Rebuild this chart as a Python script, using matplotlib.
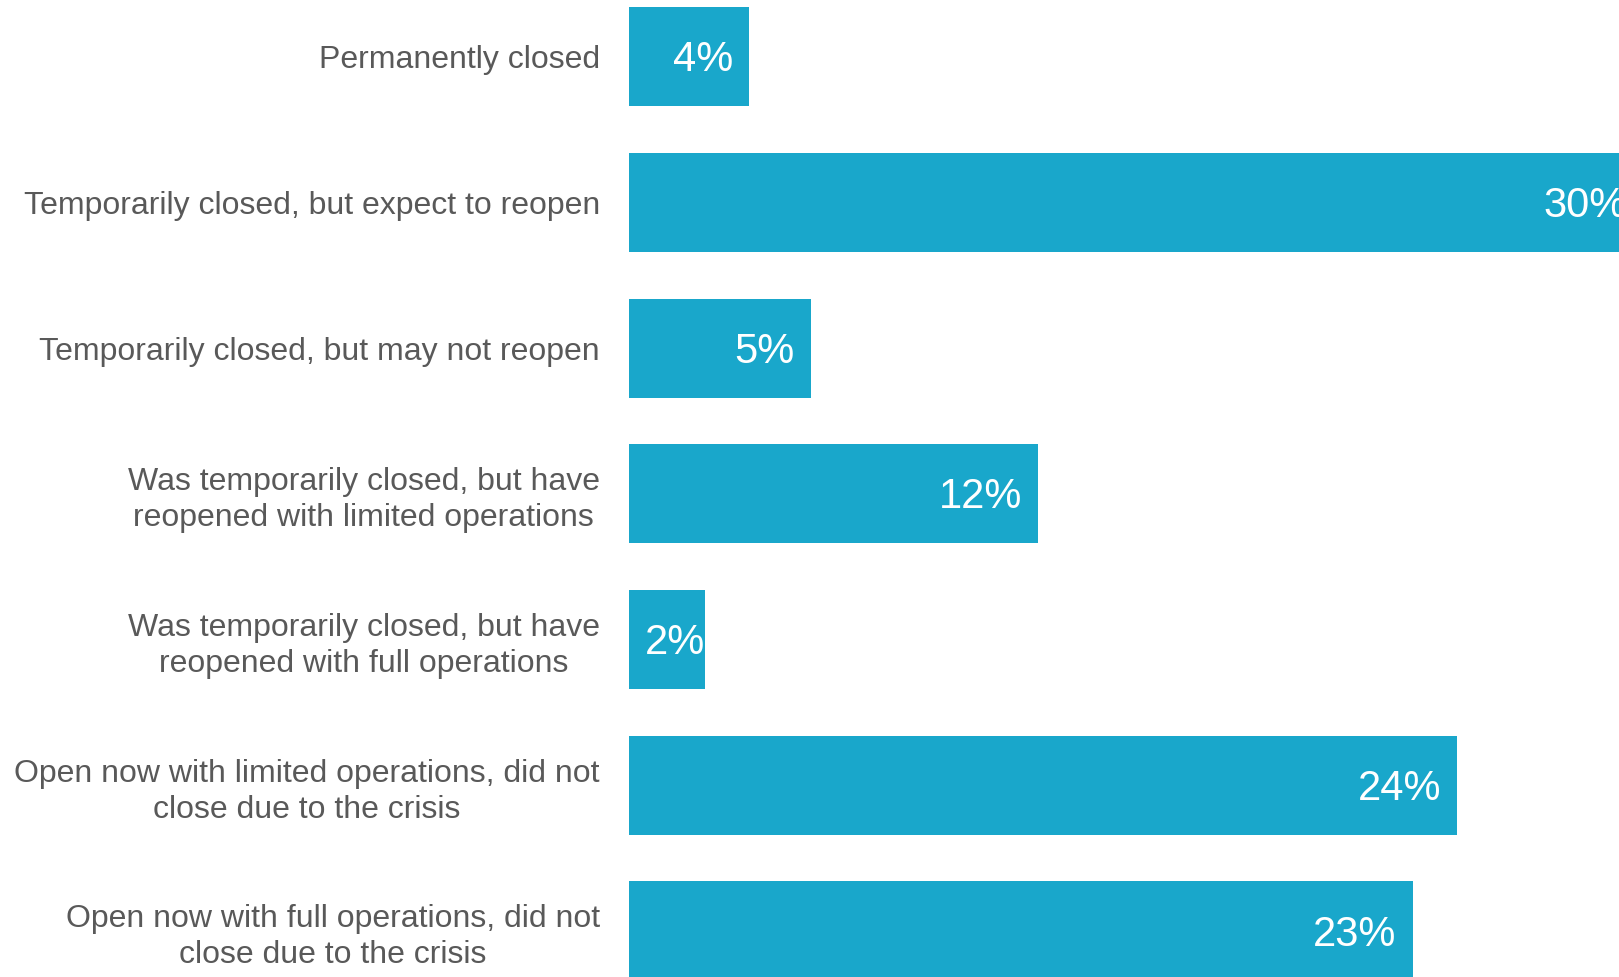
import matplotlib.pyplot as plt

categories = [
    "Permanently closed",
    "Temporarily closed, but expect to reopen",
    "Temporarily closed, but may not reopen",
    "Was temporarily closed, but have\nreopened with limited operations",
    "Was temporarily closed, but have\nreopened with full operations",
    "Open now with limited operations, did not\nclose due to the crisis",
    "Open now with full operations, did not\nclose due to the crisis",
]
values = [3.5, 29.5, 5.3, 11.9, 2.2, 24.1, 22.8]
value_labels = ["4%", "30%", "5%", "12%", "2%", "24%", "23%"]

bar_color = "#19A7CB"
text_color = "#595959"

plt.rcParams['font.family'] = ['Liberation Sans', 'DejaVu Sans']

fig = plt.figure(figsize=(16.19, 9.77), dpi=100)
ax = fig.add_axes([629 / 1619, 0, 1 - 629 / 1619, 1])

pos = list(range(len(categories)))
ax.barh(pos, values, height=0.68, color=bar_color)

ax.set_xlim(0, 28.8)
ax.set_ylim(6.316, -0.389)

ax.set_yticks(pos)
ax.set_yticklabels(categories, fontsize=23, color=text_color)
for t in ax.get_yticklabels():
    t.set_multialignment('center')
    t.set_linespacing(1.26)
ax.tick_params(axis='y', length=0, pad=21)
ax.set_xticks([])
for s in ax.spines.values():
    s.set_visible(False)

# value labels inside the bar end
pad = 0.47
for i, (v, lab) in enumerate(zip(values, value_labels)):
    y = i + 0.025
    if v < 3:
        ax.text(pad, y, lab, ha='left', va='center', color='white', fontsize=30)
    else:
        ax.text(v - pad, y, lab, ha='right', va='center', color='white', fontsize=30)

plt.savefig("out.png", dpi=100)
